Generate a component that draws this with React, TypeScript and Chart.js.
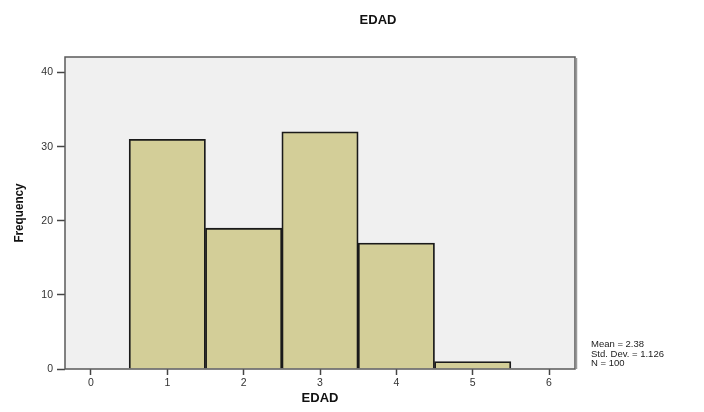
import React, { useEffect, useRef } from "react";
import { Chart, registerables } from "chart.js";

Chart.register(...registerables);

const binCenters = [1, 2, 3, 4, 5];
const frequencies = [31, 19, 32, 17, 1];
const xTicks = [0, 1, 2, 3, 4, 5, 6];
const yTicks = [0, 10, 20, 30, 40];
const statLines = ["Mean = 2.38", "Std. Dev. = 1.126", "N = 100"];
const chartTitle = "EDAD";
const xTitle = "EDAD";
const yTitle = "Frequency";

const FONT = "Arial, 'Liberation Sans', sans-serif";

const decorPlugin = {
  id: "decor",
  beforeDatasetsDraw(chart: any) {
    const { ctx, chartArea: a } = chart;
    ctx.save();
    ctx.fillStyle = "#F0F0F0";
    ctx.fillRect(a.left, a.top, a.right - a.left, a.bottom - a.top);
    ctx.restore();
  },
  afterDatasetsDraw(chart: any) {
    const { ctx, chartArea: a } = chart;
    ctx.save();
    ctx.strokeStyle = "#5a5a5a";
    ctx.lineWidth = 1.5;
    ctx.strokeRect(a.left, a.top, a.right - a.left, a.bottom - a.top);
    ctx.strokeStyle = "#9a9a9a";
    ctx.lineWidth = 1.5;
    ctx.beginPath();
    ctx.moveTo(a.right + 1.5, a.top + 1);
    ctx.lineTo(a.right + 1.5, a.bottom);
    ctx.stroke();
    ctx.restore();
  },
  afterDraw(chart: any) {
    const { ctx, chartArea: a } = chart;
    ctx.save();
    ctx.fillStyle = "#111";
    ctx.font = `bold 13px ${FONT}`;
    ctx.textAlign = "center";
    ctx.textBaseline = "middle";
    ctx.fillText(chartTitle, 378, 20);
    ctx.fillText(xTitle, (a.left + a.right) / 2, 398);
    ctx.save();
    ctx.translate(19, (a.top + a.bottom) / 2);
    ctx.rotate(-Math.PI / 2);
    ctx.font = `bold 13px ${FONT}`;
    ctx.scale(0.9, 1);
    ctx.fillText(yTitle, 0, 0);
    ctx.restore();
    ctx.font = `9.5px ${FONT}`;
    ctx.textAlign = "left";
    ctx.fillStyle = "#222";
    statLines.forEach((s, i) => ctx.fillText(s, 591, 344.5 + i * 9.5));
    ctx.restore();
  },
};

export default function App() {
  const ref = useRef<HTMLCanvasElement>(null);
  useEffect(() => {
    document.body.style.margin = "0";
    const chart = new Chart(ref.current as HTMLCanvasElement, {
      type: "bar",
      data: {
        datasets: [
          {
            data: binCenters.map((x, i) => ({ x, y: frequencies[i] })),
            backgroundColor: "#D3CE98",
            borderColor: "#1a1a1a",
            borderWidth: 1.8,
            barPercentage: 1,
            categoryPercentage: 1,
          },
        ],
      },
      options: {
        animation: false,
        responsive: false,
        layout: { padding: { top: 57, right: 129, left: 0, bottom: 0 } },
        plugins: { legend: { display: false }, tooltip: { enabled: false } },
        scales: {
          x: {
            type: "linear",
            offset: false,
            min: -0.34,
            max: 6.34,
            afterBuildTicks: (s: any) => {
              s.ticks = xTicks.map((v) => ({ value: v }));
            },
            afterFit: (s: any) => {
              s.height = 43;
            },
            grid: {
              offset: false,
              drawOnChartArea: false,
              drawTicks: true,
              tickLength: 6,
              color: "#444",
              tickWidth: 1.5,
            },
            border: { display: false },
            ticks: {
              color: "#333",
              font: { family: FONT, size: 10.5 },
              padding: 2,
              maxRotation: 0,
            },
          },
          y: {
            type: "linear",
            min: 0,
            max: 42.1,
            afterBuildTicks: (s: any) => {
              s.ticks = yTicks.map((v) => ({ value: v }));
            },
            afterFit: (s: any) => {
              s.width = 65;
            },
            grid: {
              drawOnChartArea: false,
              drawTicks: true,
              tickLength: 8,
              color: "#444",
              tickWidth: 1.5,
            },
            border: { display: false },
            ticks: {
              color: "#333",
              font: { family: FONT, size: 10.5 },
              padding: 4,
            },
          },
        },
      },
      plugins: [decorPlugin],
    } as any);
    return () => chart.destroy();
  }, []);
  return (
    <div style={{ position: "absolute", left: 0, top: 0, width: 704, height: 412, background: "#fff" }}>
      <canvas ref={ref} width={704} height={412} />
    </div>
  );
}
